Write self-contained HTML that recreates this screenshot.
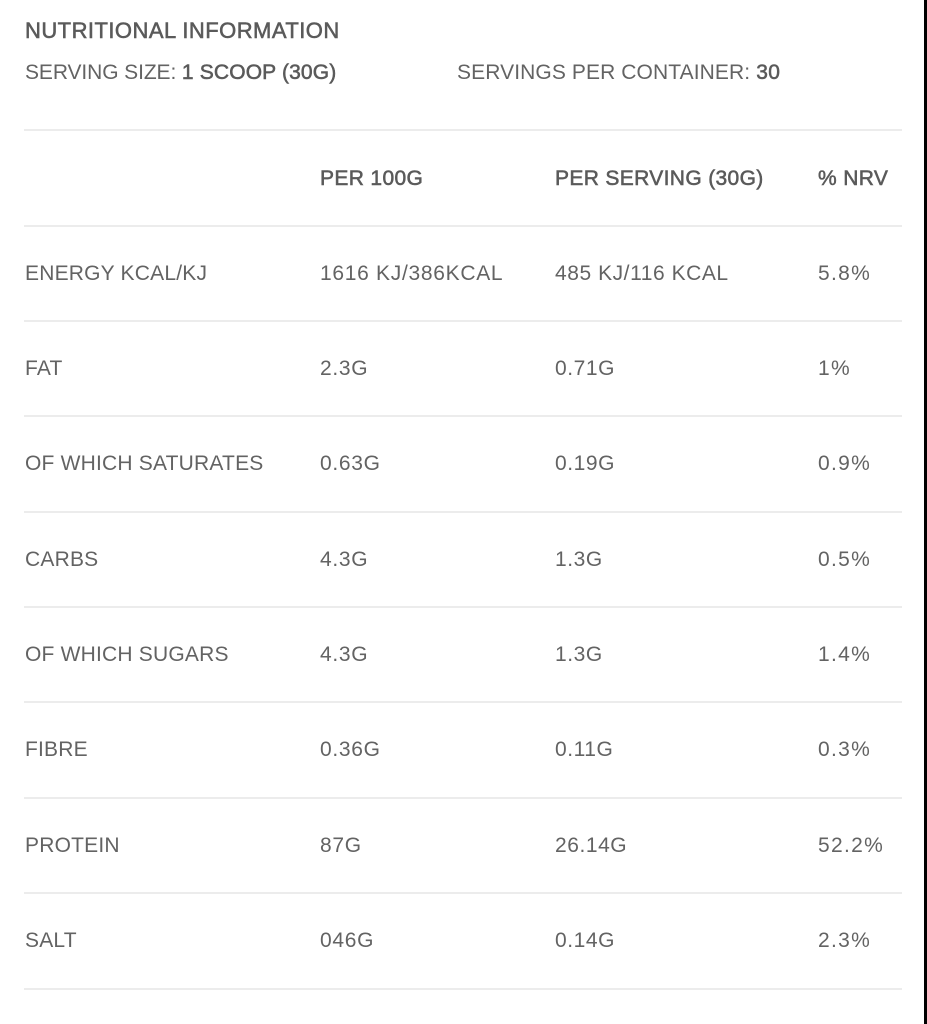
<!DOCTYPE html>
<html><head><meta charset="utf-8">
<style>
html,body{margin:0;padding:0;background:#fff;}
body{width:927px;height:1024px;position:relative;overflow:hidden;font-family:"Liberation Sans",sans-serif;color:#636363;}
.t{position:absolute;white-space:nowrap;font-size:21px;line-height:24px;}
.c1{letter-spacing:0.2px;}
.c2{letter-spacing:0.7px;}
.c3{letter-spacing:0.55px;}
.c4{letter-spacing:1.3px;}
.b{-webkit-text-stroke:0.55px #5a5a5a;color:#5a5a5a;letter-spacing:0.35px;}
.hr{position:absolute;left:24px;width:878px;height:2px;background:#ececec;}
.bar{position:absolute;left:924px;top:0;width:3px;height:1024px;background:#000;}
</style></head><body>
<div class="t b" style="left:25px;top:19px;font-size:22px;letter-spacing:0.45px;">NUTRITIONAL INFORMATION</div>
<div class="t" style="left:25px;top:60.5px;letter-spacing:-0.1px;">SERVING SIZE: <span class="b" style="letter-spacing:0.15px">1 SCOOP (30G)</span></div>
<div class="t" style="left:457px;top:60.5px;letter-spacing:0.1px;">SERVINGS PER CONTAINER: <span class="b">30</span></div>

<div class="hr" style="top:129px"></div>
<div class="hr" style="top:225px"></div>
<div class="hr" style="top:320px"></div>
<div class="hr" style="top:415px"></div>
<div class="hr" style="top:510.5px"></div>
<div class="hr" style="top:606px"></div>
<div class="hr" style="top:701px"></div>
<div class="hr" style="top:796.5px"></div>
<div class="hr" style="top:892px"></div>
<div class="hr" style="top:987.5px"></div>

<div class="t b" style="left:320px;top:167px;">PER 100G</div>
<div class="t b" style="left:555px;top:167px;">PER SERVING (30G)</div>
<div class="t b" style="left:818px;top:167px;">% NRV</div>

<div class="t c1" style="left:25px;top:261.5px;">ENERGY KCAL/KJ</div>
<div class="t c2" style="left:320px;top:261.5px;">1616 KJ/386KCAL</div>
<div class="t c3" style="left:555px;top:261.5px;">485 KJ/116 KCAL</div>
<div class="t c4" style="left:818px;top:261.5px;">5.8%</div>

<div class="t c1" style="left:25px;top:357px;">FAT</div>
<div class="t c2" style="left:320px;top:357px;">2.3G</div>
<div class="t c3" style="left:555px;top:357px;">0.71G</div>
<div class="t c4" style="left:818px;top:357px;">1%</div>

<div class="t c1" style="left:25px;top:452px;">OF WHICH SATURATES</div>
<div class="t c2" style="left:320px;top:452px;">0.63G</div>
<div class="t c3" style="left:555px;top:452px;">0.19G</div>
<div class="t c4" style="left:818px;top:452px;">0.9%</div>

<div class="t c1" style="left:25px;top:547.5px;">CARBS</div>
<div class="t c2" style="left:320px;top:547.5px;">4.3G</div>
<div class="t c3" style="left:555px;top:547.5px;">1.3G</div>
<div class="t c4" style="left:818px;top:547.5px;">0.5%</div>

<div class="t c1" style="left:25px;top:643px;">OF WHICH SUGARS</div>
<div class="t c2" style="left:320px;top:643px;">4.3G</div>
<div class="t c3" style="left:555px;top:643px;">1.3G</div>
<div class="t c4" style="left:818px;top:643px;">1.4%</div>

<div class="t c1" style="left:25px;top:738px;">FIBRE</div>
<div class="t c2" style="left:320px;top:738px;">0.36G</div>
<div class="t c3" style="left:555px;top:738px;">0.11G</div>
<div class="t c4" style="left:818px;top:738px;">0.3%</div>

<div class="t c1" style="left:25px;top:833.5px;">PROTEIN</div>
<div class="t c2" style="left:320px;top:833.5px;">87G</div>
<div class="t c3" style="left:555px;top:833.5px;">26.14G</div>
<div class="t c4" style="left:818px;top:833.5px;">52.2%</div>

<div class="t c1" style="left:25px;top:929px;">SALT</div>
<div class="t c2" style="left:320px;top:929px;">046G</div>
<div class="t c3" style="left:555px;top:929px;">0.14G</div>
<div class="t c4" style="left:818px;top:929px;">2.3%</div>

<div class="bar"></div>
</body></html>
